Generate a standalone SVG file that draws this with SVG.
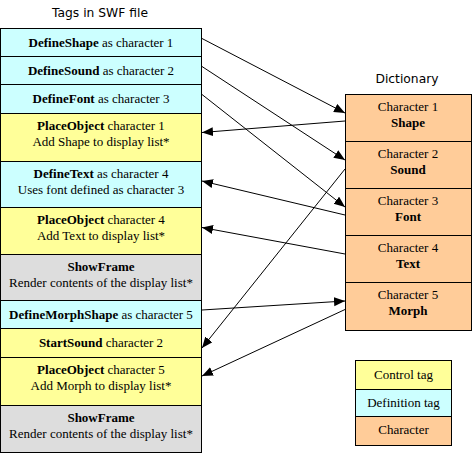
<svg xmlns="http://www.w3.org/2000/svg" width="473" height="454" viewBox="0 0 473 454">
<style>
.t{font-family:"Liberation Serif","Times New Roman",serif;font-size:13px;text-anchor:middle;fill:#000}
.b{font-weight:bold}
.h{font-family:"DejaVu Sans",Verdana,sans-serif;font-size:12.3px;text-anchor:middle;fill:#000}
.box{stroke:#000;stroke-width:1}
.def{fill:#CCFFFF}
.ctl{fill:#FFFF99}
.sf{fill:#DDDDDD}
.ch{fill:#FFCC99}
.c{stroke:#000;stroke-width:1;fill:none;marker-end:url(#ah)}
</style>
<defs>
<marker id="ah" markerUnits="userSpaceOnUse" markerWidth="12" markerHeight="10" refX="11" refY="4.5" orient="auto" viewBox="0 0 12 10">
<path d="M0,0 L11,4.5 L0,9 z" fill="#000"/>
</marker>
</defs>
<rect width="473" height="454" fill="#fff"/>
<text class="h" x="100" y="17">Tags in SWF file</text>
<text class="h" x="407" y="83">Dictionary</text>
<g id="tags">
<g id="t1"><rect class="box def" x="0.5" y="28.5" width="201" height="28"/><text class="t" x="101" y="47"><tspan class="b">DefineShape</tspan> as character 1</text></g>
<g id="t2"><rect class="box def" x="0.5" y="56.5" width="201" height="28"/><text class="t" x="101" y="75"><tspan class="b">DefineSound</tspan> as character 2</text></g>
<g id="t3"><rect class="box def" x="0.5" y="84.5" width="201" height="29"/><text class="t" x="101" y="103"><tspan class="b">DefineFont</tspan> as character 3</text></g>
<g id="t4"><rect class="box ctl" x="0.5" y="113.5" width="201" height="48"/><text class="t" x="101" y="130"><tspan class="b">PlaceObject</tspan> character 1</text><text class="t" x="101" y="146">Add Shape to display list*</text></g>
<g id="t5"><rect class="box def" x="0.5" y="161.5" width="201" height="46"/><text class="t" x="101" y="178"><tspan class="b">DefineText</tspan> as character 4</text><text class="t" x="101" y="194">Uses font defined as character 3</text></g>
<g id="t6"><rect class="box ctl" x="0.5" y="207.5" width="201" height="47"/><text class="t" x="101" y="224"><tspan class="b">PlaceObject</tspan> character 4</text><text class="t" x="101" y="240">Add Text to display list*</text></g>
<g id="t7"><rect class="box sf" x="0.5" y="254.5" width="201" height="46"/><text class="t" x="101" y="271"><tspan class="b">ShowFrame</tspan></text><text class="t" x="101" y="287">Render contents of the display list*</text></g>
<g id="t8"><rect class="box def" x="0.5" y="300.5" width="201" height="28"/><text class="t" x="101" y="319"><tspan class="b">DefineMorphShape</tspan> as character 5</text></g>
<g id="t9"><rect class="box ctl" x="0.5" y="328.5" width="201" height="29"/><text class="t" x="101" y="347"><tspan class="b">StartSound</tspan> character 2</text></g>
<g id="t10"><rect class="box ctl" x="0.5" y="357.5" width="201" height="48"/><text class="t" x="101" y="374"><tspan class="b">PlaceObject</tspan> character 5</text><text class="t" x="101" y="390">Add Morph to display list*</text></g>
<g id="t11"><rect class="box sf" x="0.5" y="405.5" width="201" height="47"/><text class="t" x="101" y="422"><tspan class="b">ShowFrame</tspan></text><text class="t" x="101" y="438">Render contents of the display list*</text></g>
</g>
<g id="dictionary">
<g id="c1"><rect class="box ch" x="345.5" y="94.5" width="126" height="47"/><text class="t" x="408" y="111">Character 1</text><text class="t b" x="408" y="127">Shape</text></g>
<g id="c2"><rect class="box ch" x="345.5" y="141.5" width="126" height="47"/><text class="t" x="408" y="158">Character 2</text><text class="t b" x="408" y="174">Sound</text></g>
<g id="c3"><rect class="box ch" x="345.5" y="188.5" width="126" height="47"/><text class="t" x="408" y="205">Character 3</text><text class="t b" x="408" y="221">Font</text></g>
<g id="c4"><rect class="box ch" x="345.5" y="235.5" width="126" height="47"/><text class="t" x="408" y="252">Character 4</text><text class="t b" x="408" y="268">Text</text></g>
<g id="c5"><rect class="box ch" x="345.5" y="282.5" width="126" height="48"/><text class="t" x="408" y="299">Character 5</text><text class="t b" x="408" y="315">Morph</text></g>
</g>
<g id="legend">
<g id="l1"><rect class="box ctl" x="355.5" y="360.5" width="96" height="29"/><text class="t" x="403.5" y="379">Control tag</text></g>
<g id="l2"><rect class="box def" x="355.5" y="389.5" width="96" height="27"/><text class="t" x="403.5" y="407">Definition tag</text></g>
<g id="l3"><rect class="box ch" x="355.5" y="416.5" width="96" height="29"/><text class="t" x="403.5" y="434">Character</text></g>
</g>
<g id="connectors">
<line class="c" x1="202" y1="38.5" x2="345" y2="113"/>
<line class="c" x1="202" y1="66.5" x2="345" y2="160"/>
<line class="c" x1="202" y1="94.5" x2="345" y2="207"/>
<line class="c" x1="345" y1="121" x2="202" y2="132.5"/>
<line class="c" x1="345" y1="215" x2="202" y2="181"/>
<line class="c" x1="345" y1="254" x2="202" y2="227.5"/>
<line class="c" x1="202" y1="310" x2="345" y2="301"/>
<line class="c" x1="345" y1="169" x2="202" y2="348"/>
<line class="c" x1="345" y1="309.5" x2="202" y2="376"/>
</g>
</svg>
